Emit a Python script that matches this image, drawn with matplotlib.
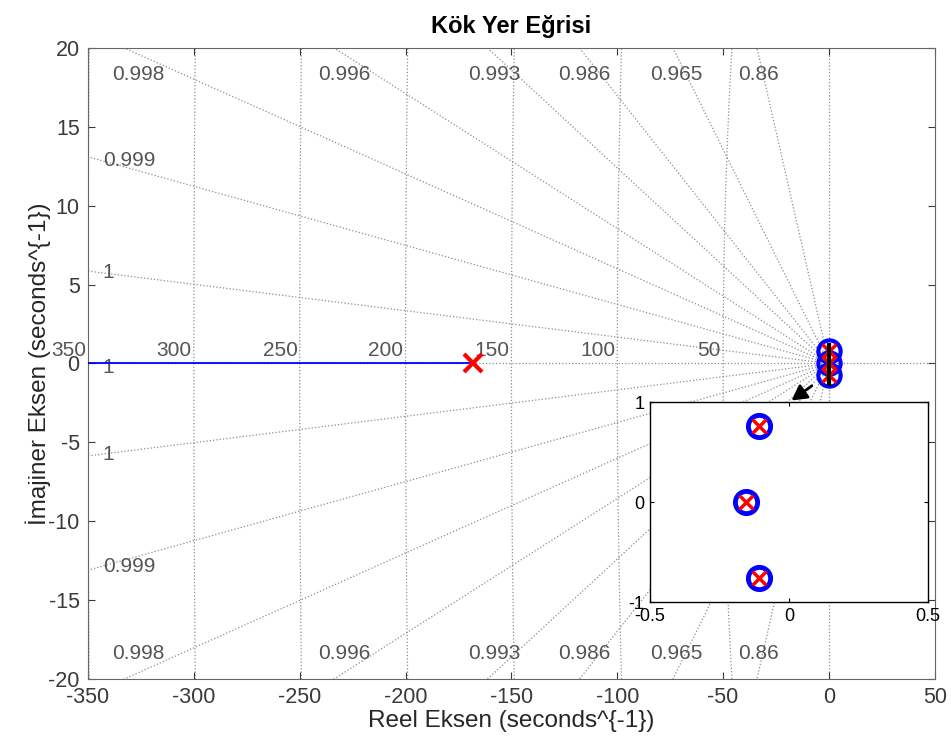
import numpy as np
import matplotlib
matplotlib.use("Agg")
import matplotlib.pyplot as plt
from matplotlib.patches import FancyArrowPatch

plt.rcParams["font.family"] = ["Liberation Sans", "DejaVu Sans"]
plt.rcParams["axes.unicode_minus"] = False

# kök yer eğrisi verileri
pole_far = [-168.0]                       # uzak reel kutup
pole_re = [-0.108, -0.155, -0.108]        # orijine yakın kutuplar
pole_im = [0.76, 0.0, -0.76]
zero_re = [-0.108, -0.155, -0.108]        # kutupların üstündeki sıfırlar
zero_im = [0.76, 0.0, -0.76]
locus_re = [-350.0, -168.0]               # reel eksen üzerindeki dal
locus_im = [0.0, 0.0]
branch_re = [-0.1, -0.1]                  # orijin yakınındaki siyah dal
branch_im = [1.15, -1.3]

# sgrid: sönüm oranları ve doğal frekanslar
zeta_vals = [0.99986, 0.9993, 0.9982, 0.99636, 0.9924, 0.9859, 0.9651, 0.862]
zeta_labels = ["1", "0.999", "0.998", "0.996", "0.993", "0.986", "0.965", "0.86"]
wn_vals = [50, 100, 150, 200, 250, 300, 350]

xlim = (-350, 50)
ylim = (-20, 20)

fig = plt.figure(figsize=(9.51, 7.46), dpi=100)
ax = fig.add_axes([0.0925, 0.0898, 0.8905, 0.8459])

grid_c = "#8c8c8c"
lab_c = "#555555"
fs_lab = 15

# sönüm çizgileri
for z, lab in zip(zeta_vals, zeta_labels):
    t = np.sqrt(1 - z**2) / z
    for s in (1, -1):
        ax.plot([0, -1000], [0, s * 1000 * t], ls=":", color=grid_c, lw=0.9, zorder=1)
    if 19.6 / t < 345:
        xl = -19.6 / t
        ax.text(xl, 18.3, lab, ha="center", va="center", color=lab_c, fontsize=fs_lab)
        ax.text(xl, -18.4, lab, ha="center", va="center", color=lab_c, fontsize=fs_lab)
    else:
        ax.text(-343, 343 * t, lab, ha="left", va="center", color=lab_c, fontsize=fs_lab)
        ax.text(-343, -343 * t, lab, ha="left", va="center", color=lab_c, fontsize=fs_lab)
ax.axhline(0, ls=":", color=grid_c, lw=0.9, zorder=1)
ax.axvline(0, ls=":", color=grid_c, lw=0.9, zorder=1)
ax.text(-343, -0.25, "1", ha="left", va="center", color=lab_c, fontsize=fs_lab)

# doğal frekans çemberleri
th = np.linspace(np.pi / 2, 3 * np.pi / 2, 2000)
for w in wn_vals:
    ax.plot(w * np.cos(th), w * np.sin(th), ls=":", color=grid_c, lw=0.9, zorder=1)
    ax.text(-w - 1, 0.2, str(w), ha="right", va="bottom", color=lab_c,
            fontsize=fs_lab, clip_on=False)

ax.plot(locus_re, locus_im, color="#0000ff", lw=1.3, zorder=3)
ax.plot(zero_re, zero_im, "o", ms=16, mfc="none", mec="#0000ff", mew=3, zorder=4)
ax.plot(pole_re, pole_im, "x", ms=10, mec="#ff0000", mew=2.5, zorder=5)
ax.plot(pole_far, [0], "x", ms=13, mec="#ff0000", mew=3, zorder=5)
ax.plot(branch_re, branch_im, color="black", lw=3, zorder=6)

ax.set_xlim(*xlim)
ax.set_ylim(*ylim)
ax.set_xticks(np.arange(-350, 51, 50))
ax.set_yticks(np.arange(-20, 21, 5))
ax.tick_params(direction="in", top=True, right=True, labelsize=15.5,
               colors="#3a3a3a", length=5, pad=6)
for sp in ax.spines.values():
    sp.set_color("#666666")
    sp.set_linewidth(0.8)
ax.set_xlabel("Reel Eksen (seconds^{-1})", fontsize=17.5, color="#262626", labelpad=1)
ax.set_ylabel("İmajiner Eksen (seconds^{-1})", fontsize=17.5, color="#262626", labelpad=-2)
ax.set_title("Kök Yer Eğrisi", fontsize=17, fontweight="bold", pad=11)

# yakınlaştırılmış iç grafik
ins = fig.add_axes([0.6835, 0.193, 0.2923, 0.268])
ins.plot(zero_re, zero_im, "o", ms=16, mfc="none", mec="#0000ff", mew=3.5)
ins.plot(pole_re, pole_im, "x", ms=10, mec="#ff0000", mew=2.5)
ins.set_xlim(-0.5, 0.5)
ins.set_ylim(-1, 1)
ins.set_xticks([-0.5, 0, 0.5])
ins.set_xticklabels(["-0.5", "0", "0.5"])
ins.set_yticks([-1, 0, 1])
ins.set_yticklabels(["-1", "0", "1"])
ins.tick_params(direction="in", top=True, right=True, labelsize=13, length=3, pad=4)
for sp in ins.spines.values():
    sp.set_color("black")
    sp.set_linewidth(1)

fig.add_artist(FancyArrowPatch(
    (0.856, 0.485), (0.830, 0.461), transform=fig.transFigure,
    arrowstyle="-|>,head_length=9,head_width=5", color="black", lw=2))

fig.savefig("out.png", dpi=100)
